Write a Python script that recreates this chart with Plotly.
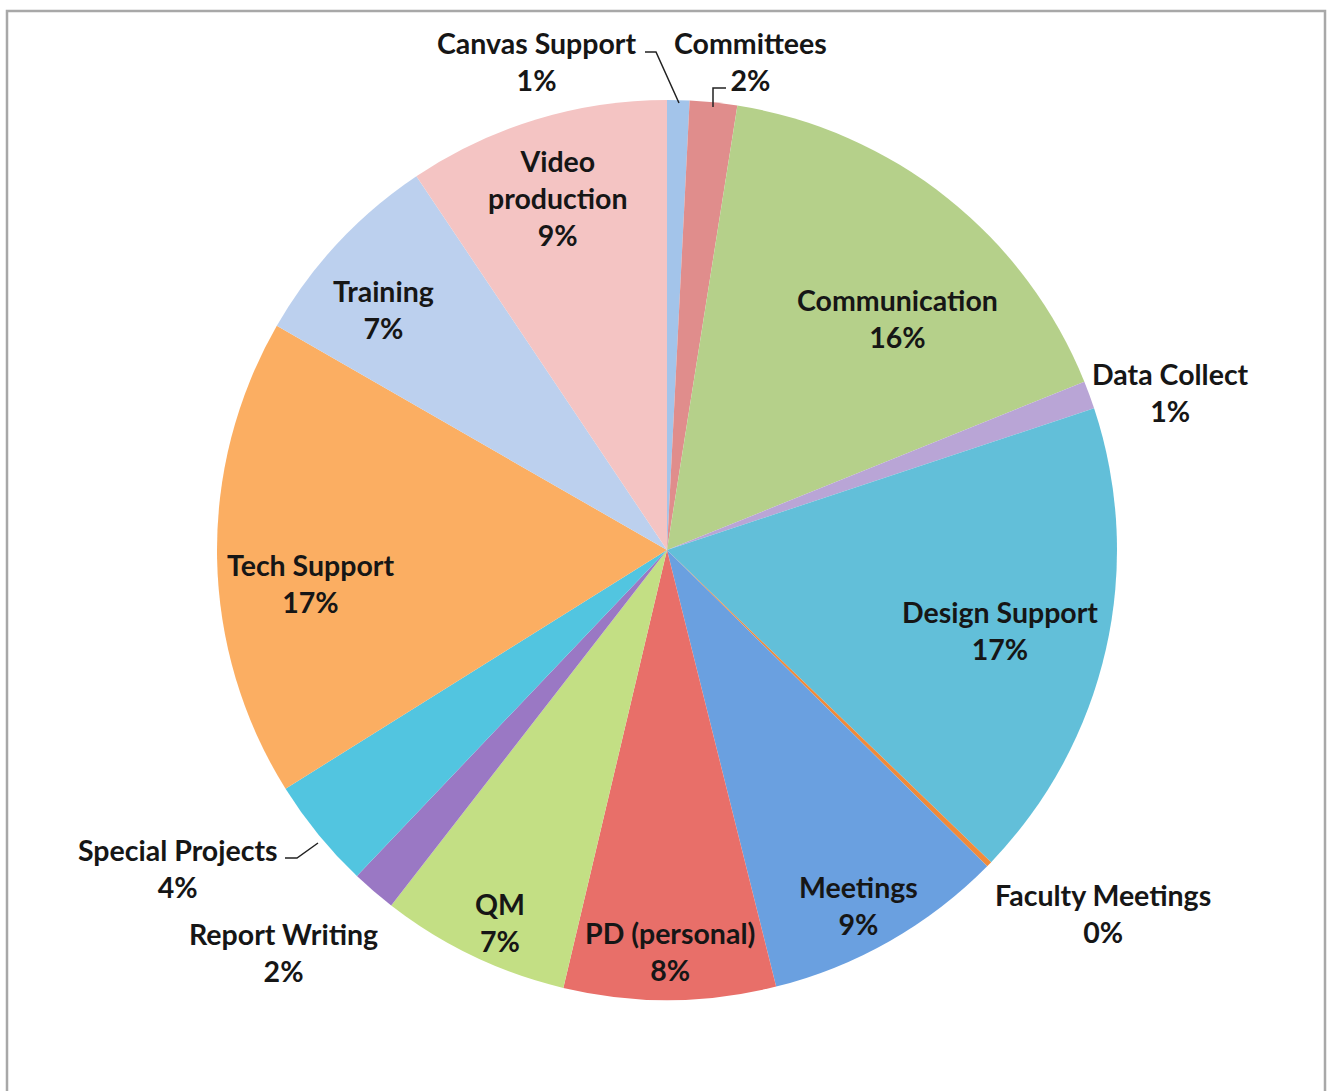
import plotly.graph_objects as go

# ---- data ----
categories = ["Canvas Support", "Committees", "Communication", "Data Collect",
              "Design Support", "Faculty Meetings", "Meetings", "PD (personal)",
              "QM", "Report Writing", "Special Projects", "Tech Support",
              "Training", "Video production"]
values = [0.8, 1.7, 16.4, 1.0, 17.3, 0.2, 8.7, 7.6, 6.8, 1.6, 4.0, 17.2, 7.3, 9.4]
display_names = ["Canvas Support", "Committees", "Communication", "Data Collect",
                 "Design Support", "Faculty Meetings", "Meetings", "PD (personal)",
                 "QM", "Report Writing", "Special Projects", "Tech Support",
                 "Training", "Video<br>production"]

colors = ["#a3c4ea", "#e08d8c", "#b5d08a", "#b9a5d6", "#62bfd9", "#f08a3a",
          "#6aa0e0", "#e86f69", "#c3df84", "#9a78c4", "#52c5e0", "#fbae62",
          "#bcd0ee", "#f4c4c3"]

W, H = 1330, 1091
cx, cy, R = 667, 550, 450

def px(x):
    return x / W

def py(y):
    return 1 - y / H

total = sum(values)

font_family = "Lato"
fsize = 28.5
txt_color = "#161616"

fig = go.Figure(go.Pie(
    labels=categories,
    values=values,
    text=display_names,
    textinfo="none",
    sort=False,
    direction="clockwise",
    rotation=0,
    marker=dict(colors=colors, line=dict(width=0)),
    showlegend=False,
    hoverinfo="label+percent",
    domain=dict(x=[px(cx - R), px(cx + R)], y=[py(cy + R), py(cy - R)]),
))

# data-label placement (layout only; text comes from the data)
label_pos = {
    "Canvas Support": (537, 62),
    "Committees": (750, 62),
    "Communication": (897, 318),
    "Data Collect": (1170, 392),
    "Design Support": (1000, 630),
    "Faculty Meetings": (1103, 913),
    "Meetings": (858, 905),
    "PD (personal)": (670, 951),
    "QM": (500, 922),
    "Report Writing": (283, 952),
    "Special Projects": (178, 868),
    "Tech Support": (310, 583),
    "Training": (383, 309),
    "Video production": (558, 198),
}
annotations = []
for c, name, v in zip(categories, display_names, values):
    x, y = label_pos[c]
    annotations.append(dict(
        x=px(x), y=py(y), xref="paper", yref="paper",
        text=f"{name}<br>{round(v / total * 100)}%",
        showarrow=False, xanchor="center", yanchor="middle",
        font=dict(family=font_family, size=fsize, color=txt_color, weight="bold"),
    ))

leader_lines = [
    [(645, 52), (656, 52), (679, 103)],
    [(726, 88), (713, 88), (713, 107)],
    [(285, 858), (297, 858), (318, 843)],
]
shapes = []
for pts in leader_lines:
    path = "M " + " L ".join(f"{px(x)},{py(y)}" for x, y in pts)
    shapes.append(dict(type="path", path=path, xref="paper", yref="paper",
                       line=dict(color="#222222", width=1.5)))

# chart frame
shapes.append(dict(type="rect", xref="paper", yref="paper",
                   x0=px(7), x1=px(1325), y0=py(1100), y1=py(11),
                   line=dict(color="#a8a8a8", width=2.5)))

fig.update_layout(
    width=W, height=H,
    margin=dict(l=0, r=0, t=0, b=0),
    paper_bgcolor="white",
    plot_bgcolor="white",
    annotations=annotations,
    shapes=shapes,
)

fig.write_html("out.html")
